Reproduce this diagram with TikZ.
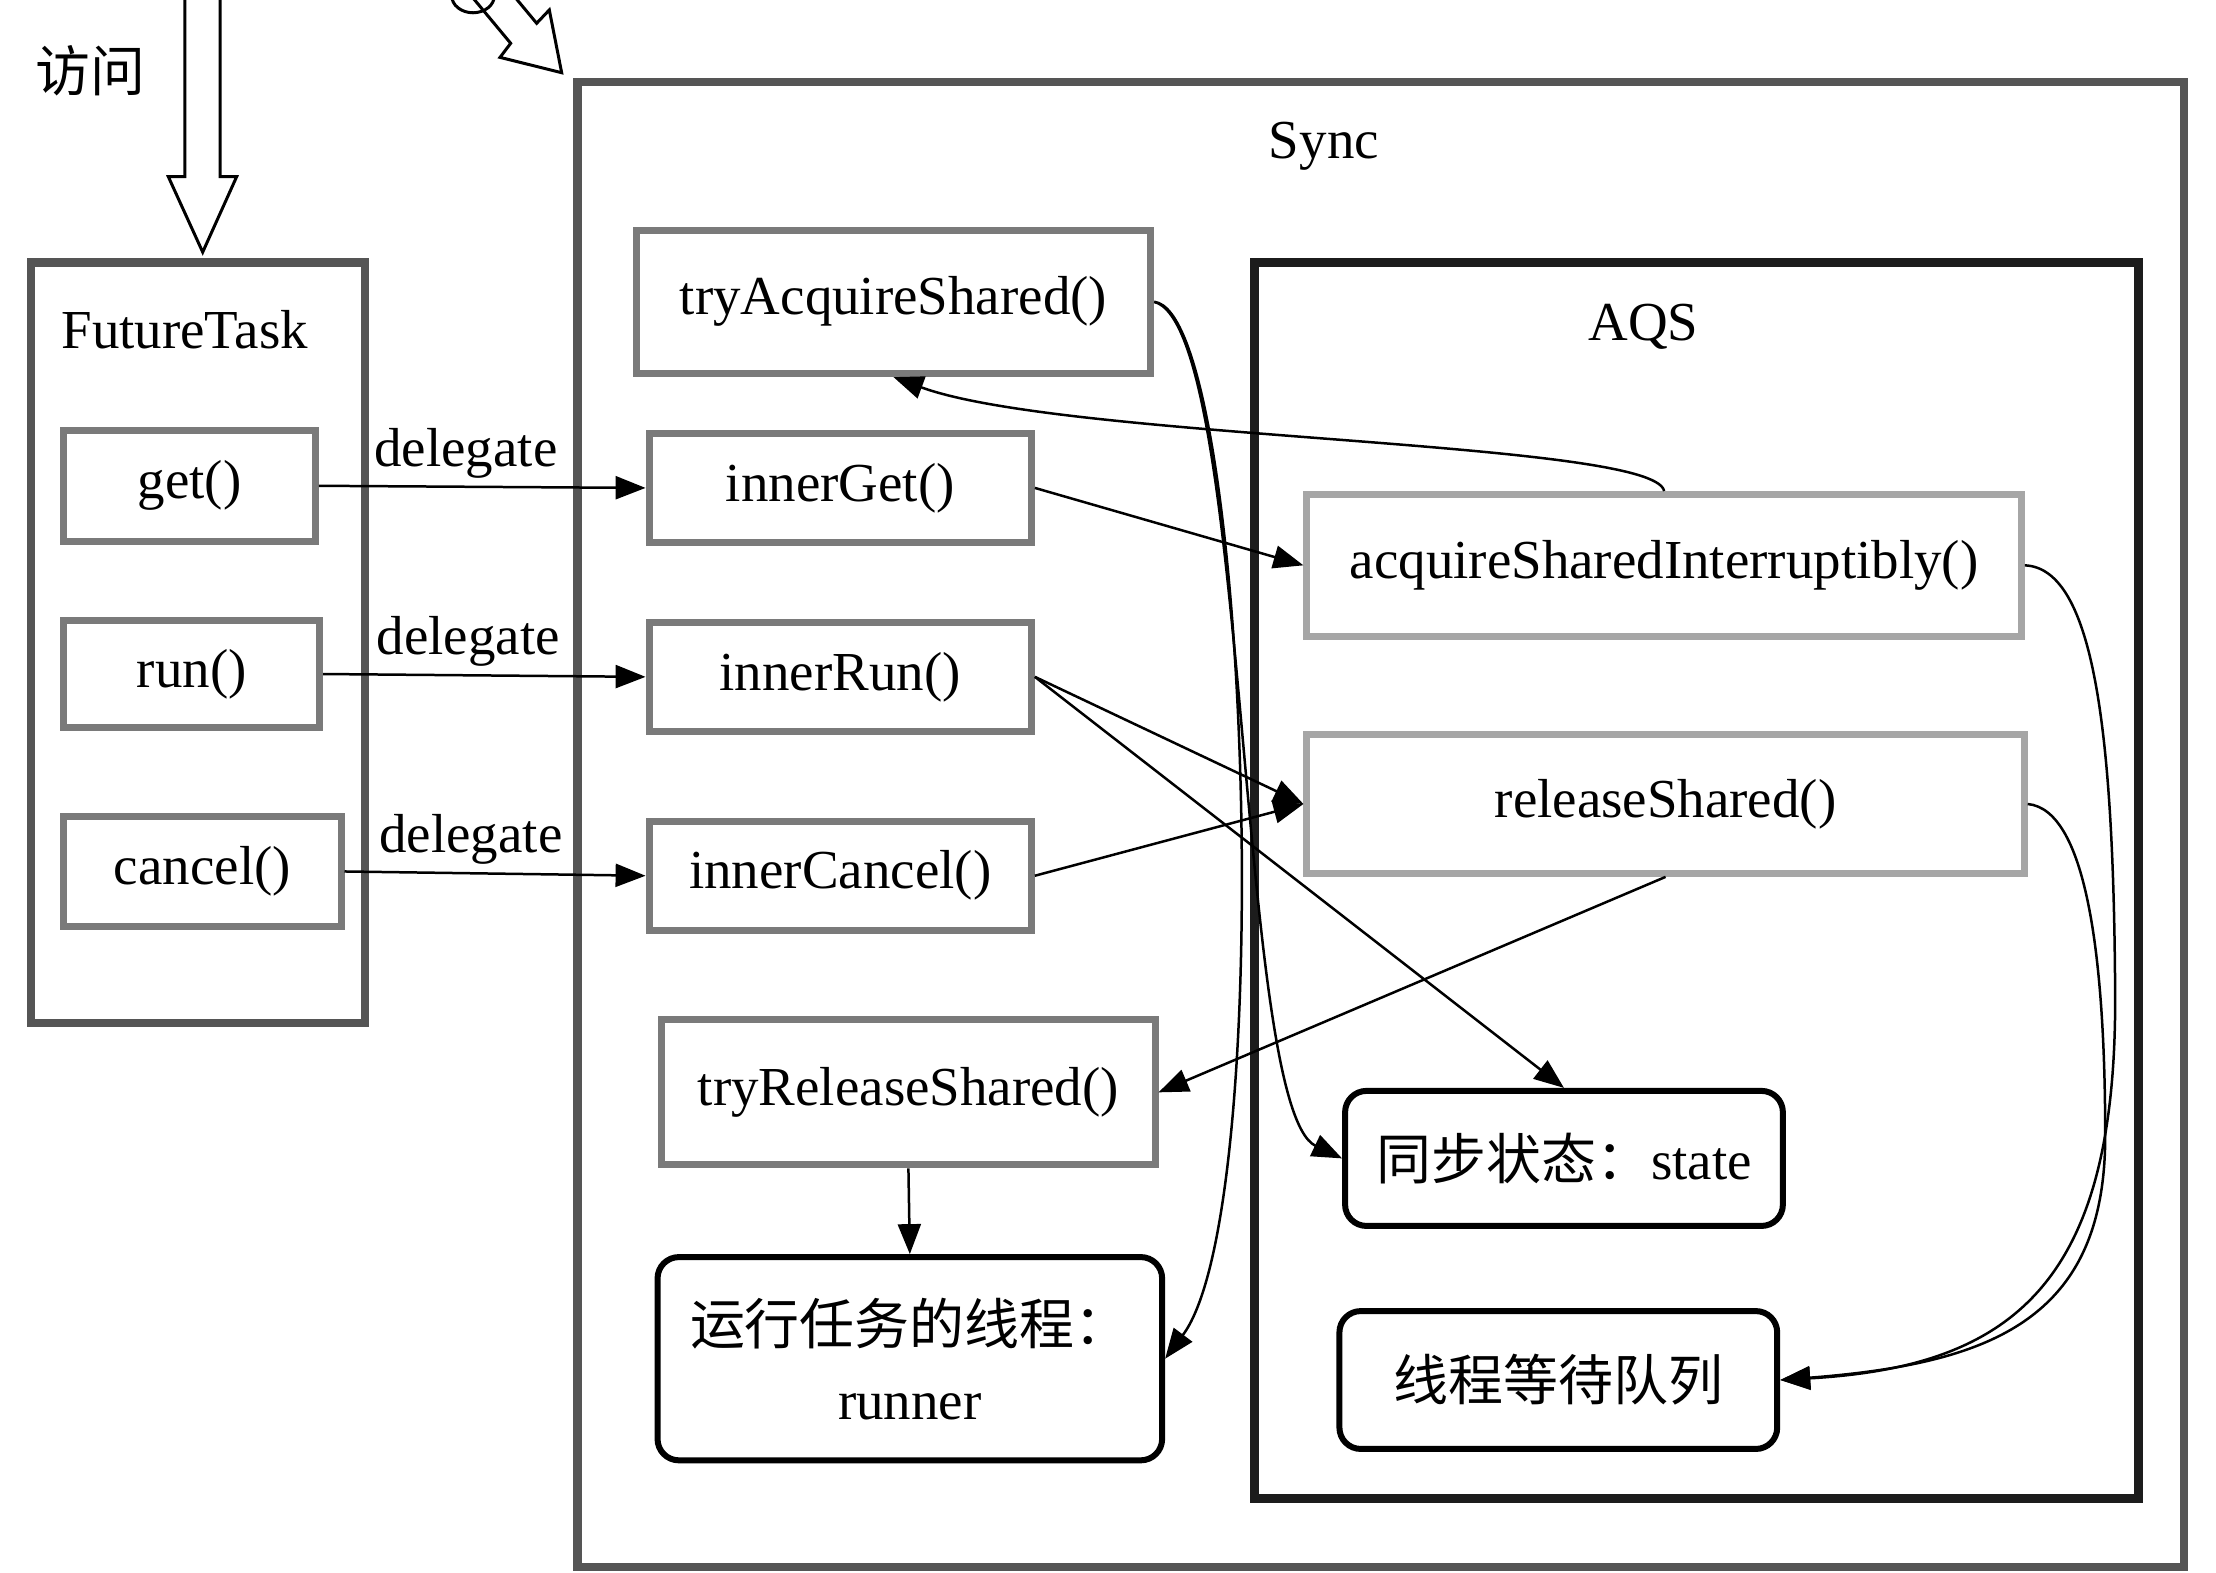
\documentclass[tikz,border=0pt]{standalone}
\usepackage{fontspec}
\setmainfont{Liberation Serif}
\newfontfamily\cjk{Noto Sans CJK SC}
\usepackage{tikz}
\usetikzlibrary{arrows.meta}
\definecolor{outergray}{RGB}{85,85,85}
\definecolor{methodgray}{RGB}{122,122,122}
\definecolor{aqsgray}{RGB}{166,166,166}
\definecolor{aqsblack}{RGB}{28,28,28}
\tikzset{
    container/.style={rectangle, draw=outergray, line width=1.7pt, inner sep=0pt},
    method/.style={rectangle, draw=methodgray, line width=1.4pt, text centered, inner sep=0pt},
    aqsmethod/.style={rectangle, draw=aqsgray, line width=1.3pt, text centered, inner sep=0pt},
    field/.style={rectangle, rounded corners=0.15cm, draw=black, line width=1.2pt, align=center, inner sep=0pt},
    call/.style={-{Triangle[length=6pt,width=4.6pt]}, line width=0.5pt},
    hollow/.style={draw=black, fill=white, line width=0.6pt}
}

\begin{document}
\begin{tikzpicture}[x=0.01cm, y=-0.01cm, font=\fontsize{11pt}{14pt}\selectfont]
    \useasboundingbox (0,0) rectangle (1560,1107);

    % Access arrows at the top
    \draw[hollow] (130.2,-5) -- (130.2,124.4) -- (118.5,124.4) -- (142.7,177.5) -- (166.6,124.4) -- (154.9,124.4) -- (154.9,-5);
    \node (access) at (64,50) {\cjk 访问};
    \draw[hollow] (330,-5) -- (359.5,30.5) -- (352,40.4) -- (395.4,51.2) -- (386.7,7) -- (377.8,16.4) -- (360,-5);
    \draw[line width=0.6pt] (333,-3) ellipse [x radius=0.15cm, y radius=0.12cm];

    % FutureTask
    \node[container, minimum width=2.35cm, minimum height=5.35cm] (futuretask) at (139.5,452.5) {};
    \node (ftlabel) at (130,232) {FutureTask};
    \node[method, minimum width=1.77cm, minimum height=0.78cm] (get) at (133.5,342) {get()};
    \node[method, minimum width=1.80cm, minimum height=0.75cm] (run) at (135,474.5) {run()};
    \node[method, minimum width=1.95cm, minimum height=0.77cm] (cancel) at (142.5,613.5) {cancel()};

    % Sync
    \node[container, minimum width=11.3cm, minimum height=10.45cm] (sync) at (972,580.5) {};
    \node (synclabel) at (932,103) {Sync};
    \node[method, minimum width=3.62cm, minimum height=1.01cm] (tryacq) at (629,212.5) {tryAcquireShared()};
    \node[method, minimum width=2.69cm, minimum height=0.77cm] (innerget) at (591.5,343.5) {innerGet()};
    \node[method, minimum width=2.69cm, minimum height=0.77cm] (innerrun) at (591.5,476.5) {innerRun()};
    \node[method, minimum width=2.69cm, minimum height=0.77cm] (innercancel) at (591.5,616.5) {innerCancel()};
    \node[method, minimum width=3.47cm, minimum height=1.02cm] (tryrel) at (639.5,769) {tryReleaseShared()};
    \node[field, minimum width=3.55cm, minimum height=1.43cm, font=\fontsize{11pt}{15pt}\selectfont] (runner) at (640.5,956.5) {{\cjk 运行任务的线程：}\\runner};

    % AQS
    \node[container, draw=aqsblack, line width=1.8pt, minimum width=6.22cm, minimum height=8.7cm] (aqs) at (1194,620) {};
    \node (aqslabel) at (1157,230) {AQS};
    \node[aqsmethod, minimum width=5.03cm, minimum height=1.0cm] (acqint) at (1171.5,398) {acquireSharedInterruptibly()};
    \node[aqsmethod, minimum width=5.05cm, minimum height=0.98cm] (relshared) at (1172.5,566) {releaseShared()};
    \node[field, minimum width=3.08cm, minimum height=0.95cm] (state) at (1101,815.5) {{\cjk 同步状态：}state};
    \node[field, minimum width=3.08cm, minimum height=0.97cm] (waitqueue) at (1097,971.5) {\cjk 线程等待队列};

    % Delegation
    \draw[call] (get.east) -- node[above, inner sep=1.5pt, pos=0.45] {delegate} (innerget.west);
    \draw[call] (run.east) -- node[above, inner sep=1.5pt, pos=0.45] {delegate} (innerrun.west);
    \draw[call] (cancel.east) -- node[above, inner sep=1.5pt, pos=0.42] {delegate} (innercancel.west);

    % Calls inside Sync
    \draw[call] (innerget.east) -- (acqint.west);
    \draw[call] (acqint.north) .. controls (1165,310) and (750,310) .. (tryacq.south);
    \draw[call] (innerrun.east) -- (relshared.west);
    \draw[call] (innerrun.east) -- (state.north);
    \draw[call] (innercancel.east) -- (relshared.west);
    \draw[call] (relshared.south) -- (tryrel.east);
    \draw[call] (tryrel.south) -- (runner.north);
    \draw[call] (tryacq.east) .. controls (880,230) and (870,780) .. (state.west);
    \draw[call] (tryacq.east) .. controls (880,220) and (900,850) .. (runner.east);
    \draw[call] (acqint.east) .. controls (1475,400) and (1488,520) .. (1489,700) .. controls (1490,900) and (1420,962) .. (waitqueue.east);
    \draw[call] (relshared.east) .. controls (1470,570) and (1482,680) .. (1482,800) .. controls (1482,930) and (1400,960) .. (waitqueue.east);
\end{tikzpicture}
\end{document}
